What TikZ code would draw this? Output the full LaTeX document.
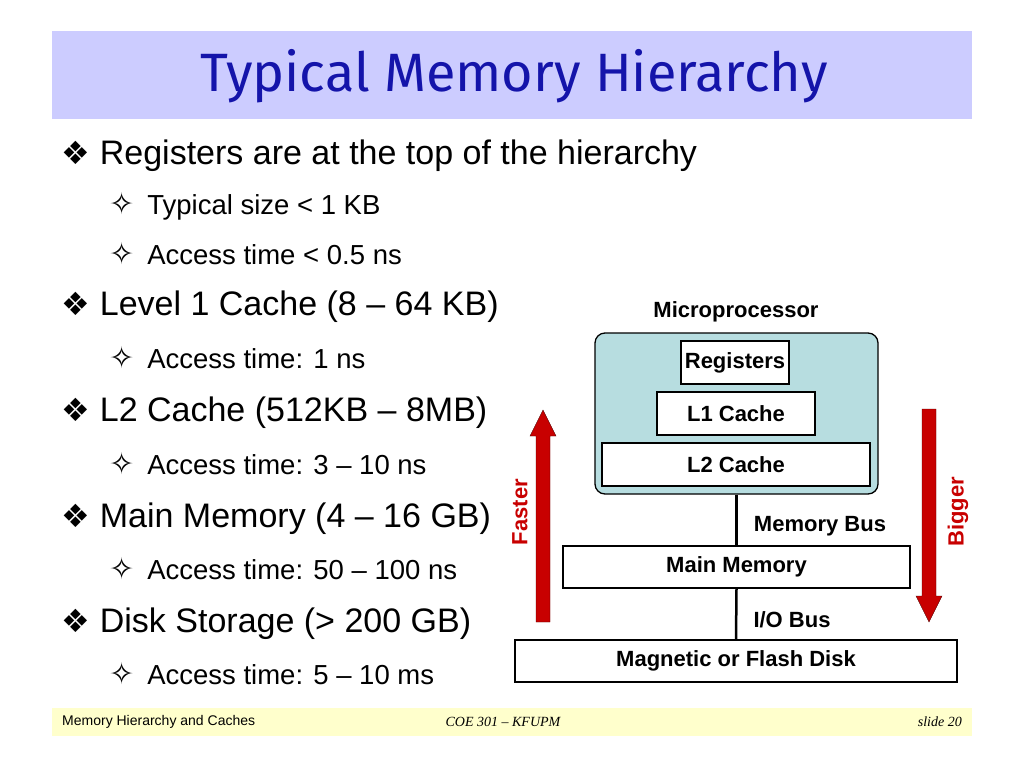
\documentclass[tikz,border=0pt]{standalone}
\usepackage{fontspec}
\setmainfont{Liberation Sans}
\newfontfamily\symfont{DejaVu Sans}
\newfontfamily\titlefont{Fira Sans}
\newfontfamily\footserif{Liberation Serif}
\usetikzlibrary{positioning}
\definecolor{titleband}{RGB}{204,204,255}
\definecolor{footband}{RGB}{255,255,204}
\definecolor{titleblue}{RGB}{20,20,170}
\definecolor{cpufill}{RGB}{183,221,224}
\definecolor{arrowred}{RGB}{200,0,0}

\begin{document}
\begin{tikzpicture}[x=1pt,y=-1pt]
    \tikzstyle{box}=[draw,line width=1.3pt,fill=white,inner sep=0pt,font=\bfseries\fontsize{22}{25}\selectfont]
    \tikzstyle{bus}=[font=\bfseries\fontsize{22}{25}\selectfont]
    \tikzstyle{itemA}=[anchor=west,inner sep=0pt,font=\fontsize{34}{38}\selectfont]
    \tikzstyle{itemB}=[anchor=west,inner sep=0pt,font=\fontsize{27.5}{32}\selectfont]
    \tikzstyle{fatarrow}=[fill=arrowred,draw=black!70!red,thin]

    \useasboundingbox (0,0) rectangle (1024,768);

    % Title and footer bands
    \fill[titleband] (52,31) rectangle (972,119);
    \node (title) at (514,76) {\titlefont\fontsize{54}{60}\selectfont\color{titleblue}Typical Memory Hierarchy};
    \fill[footband] (52,708) rectangle (972,736);
    \node[anchor=west,inner sep=0pt,font=\fontsize{14}{16}\selectfont] (fleft) at (62,722) {Memory Hierarchy and Caches};
    \node[font=\footserif\itshape\fontsize{14}{16}\selectfont] (fmid) at (503,722) {COE 301 – KFUPM};
    \node[anchor=east,inner sep=0pt,font=\footserif\itshape\fontsize{14}{16}\selectfont] (fright) at (962,722) {slide 20};

    % Bullet list
    \foreach \y/\t in {156/Registers are at the top of the hierarchy,
                       307/Level 1 Cache (8 – 64 KB),
                       413/L2 Cache (512KB – 8MB),
                       519/Main Memory (4 – 16 GB),
                       624/Disk Storage (> 200 GB)}
        \node[itemA] at (61,\y) {{\symfont\fontsize{32}{36}\selectfont ❖}\hspace{10pt}\t};
    \foreach \y/\t in {206/Typical size < 1 KB,
                       254/Access time < 0.5 ns,
                       358/Access time: 1 ns,
                       464/Access time: 3 – 10 ns,
                       569/Access time: 50 – 100 ns,
                       674/Access time: 5 – 10 ms}
        \node[itemB] at (109,\y) {{\symfont\fontsize{30}{34}\selectfont ✧}\hspace{13pt}\t};

    % Hierarchy diagram
    \node[bus] (mplabel) at (736,312) {Microprocessor};
    \node[draw,line width=1.3pt,fill=cpufill,rounded corners=10pt,minimum width=283pt,minimum height=161pt] (cpu) at (736.5,413.5) {};
    \node[box,minimum width=108pt,minimum height=43pt] (reg) at (735,362.5) {Registers};
    \node[box,minimum width=158pt,minimum height=43pt] (l1) at (736,413.5) {L1 Cache};
    \node[box,minimum width=268pt,minimum height=43pt] (l2) at (736,464.5) {L2 Cache};
    \node[box,minimum width=347pt,minimum height=42pt] (mm) at (736.5,567) {Main Memory};
    \node[box,minimum width=442pt,minimum height=42pt] (disk) at (736,661) {Magnetic or Flash Disk};
    \draw[line width=2.5pt] (cpu.south) -- (mm.north);
    \draw[line width=2.5pt] (mm.south) -- (disk.north);
    \node[bus] (membus) at (820,526) {Memory Bus};
    \node[bus] (iobus) at (792,620) {I/O Bus};

    % Faster / Bigger arrows
    \draw[fatarrow] (536,622) -- (550,622) -- (550,436) -- (556,436) -- (543,410)
        -- (530,436) -- (536,436) -- cycle;
    \node[bus,rotate=90,text=arrowred] (faster) at (520,512) {Faster};
    \draw[fatarrow] (922,409) -- (936,409) -- (936,596) -- (942,596) -- (929,622)
        -- (916,596) -- (922,596) -- cycle;
    \node[bus,rotate=90,text=arrowred] (bigger) at (958,512) {Bigger};
\end{tikzpicture}
\end{document}
